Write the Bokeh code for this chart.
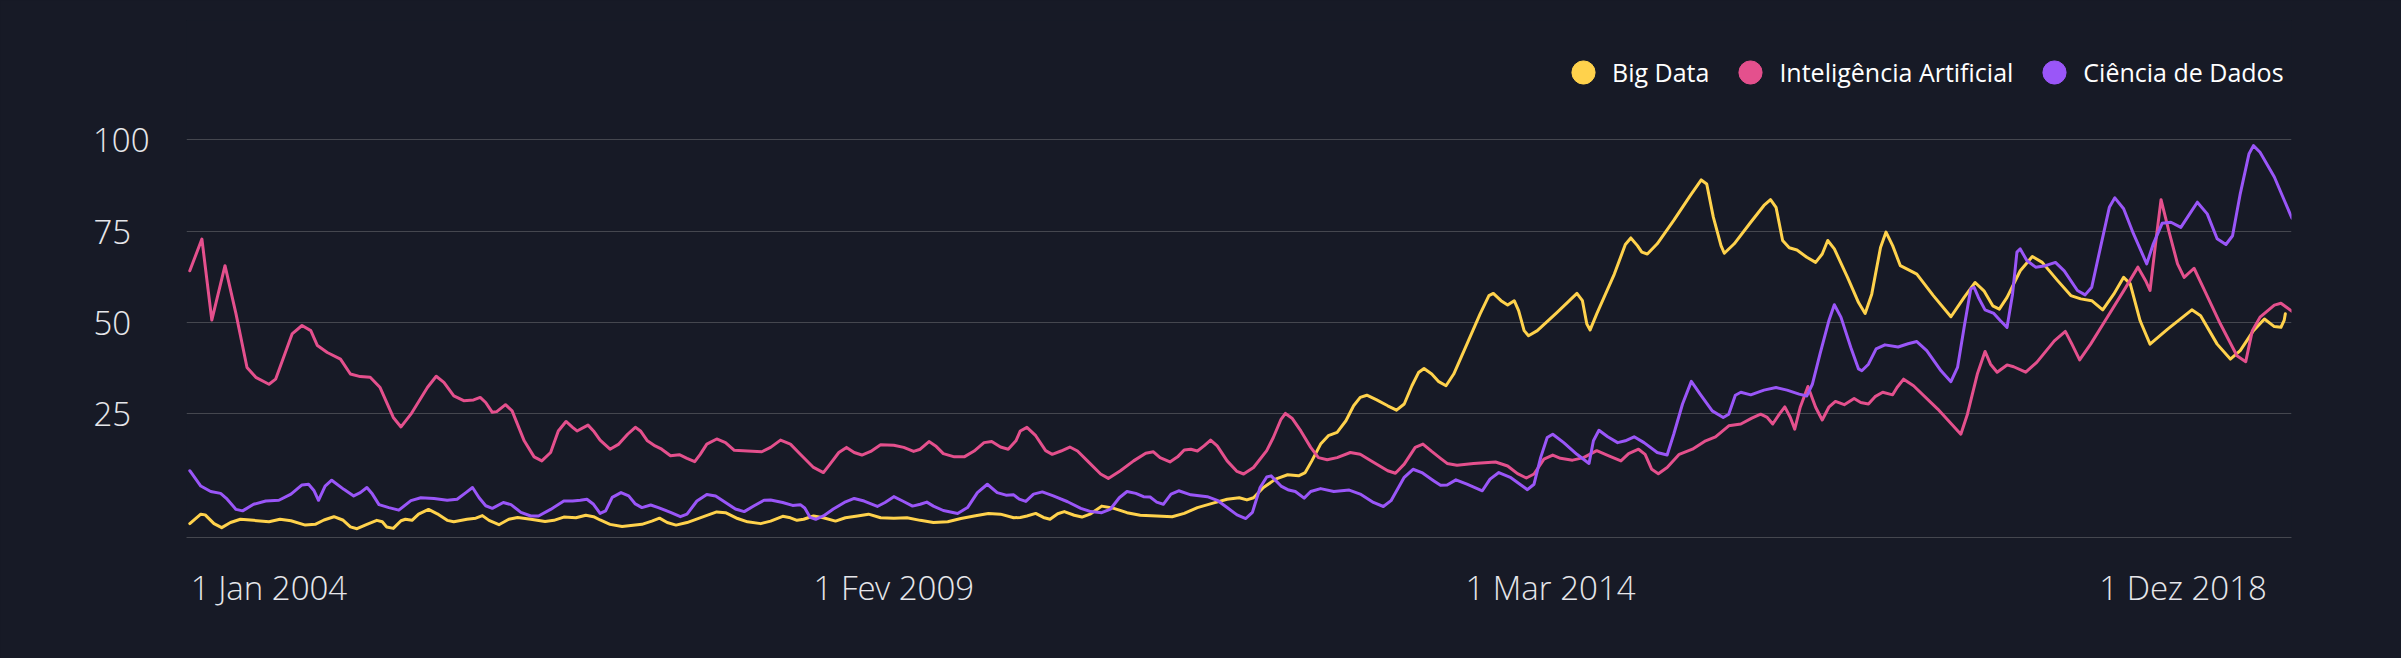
from bokeh.plotting import figure
from bokeh.models import FixedTicker, Range1d, Legend, LegendItem
from bokeh.embed import file_html
from bokeh.resources import INLINE

# ---------------- data (x = months since Jan 2004, y = index value) ----------------
big_data = [(0.0,-5.2),(1.0,-2.6),(1.4,-2.8),(2.2,-5.2),(2.9,-6.3),(3.7,-4.9),(4.6,-4.0),(5.8,-4.3),(7.2,-4.7),(8.2,-4.0),(9.2,-4.4),(10.5,-5.6),(11.4,-5.4),(12.2,-4.2),(13.1,-3.3),(13.9,-4.2),(14.6,-6.1),(15.2,-6.6),(16.1,-5.4),(17.0,-4.3),(17.5,-4.7),(17.9,-6.1),(18.5,-6.5),(19.2,-4.4),(19.6,-4.0),(20.2,-4.3),(20.8,-2.6),(21.7,-1.3),(22.5,-2.5),(23.4,-4.3),(24.0,-4.7),(25.2,-4.0),(26.0,-3.7),(26.6,-3.0),(27.2,-4.3),(28.1,-5.5),(29.0,-4.0),(29.8,-3.5),(31.0,-4.0),(32.3,-4.6),(33.1,-4.3),(34.0,-3.4),(35.1,-3.6),(36.0,-2.9),(36.7,-3.3),(37.3,-4.2),(38.2,-5.4),(39.3,-6.0),(41.1,-5.4),(42.0,-4.5),(42.7,-3.7),(43.4,-4.9),(44.2,-5.6),(45.2,-4.9),(46.7,-3.3),(47.9,-2.0),(48.7,-2.2),(49.8,-3.8),(50.7,-4.7),(51.9,-5.2),(52.8,-4.5),(53.9,-3.2),(54.6,-3.6),(55.2,-4.3),(55.8,-4.0),(56.7,-3.1),(57.6,-3.6),(58.7,-4.5),(59.6,-3.6),(60.7,-3.1),(61.7,-2.6),(62.8,-3.6),(64.0,-3.7),(65.2,-3.6),(66.4,-4.3),(67.6,-4.9),(68.9,-4.7),(70.1,-3.8),(71.3,-3.1),(72.6,-2.4),(73.7,-2.6),(74.9,-3.6),(75.5,-3.5),(76.1,-3.1),(76.9,-2.4),(77.6,-3.5),(78.2,-4.0),(78.9,-2.5),(79.5,-1.9),(80.4,-2.9),(81.1,-3.4),(81.9,-2.5),(82.9,-0.4),(84.0,-1.0),(85.2,-2.2),(86.4,-2.9),(87.9,-3.1),(89.3,-3.3),(90.4,-2.4),(91.6,-0.8),(93.1,0.5),(94.3,1.5),(95.4,1.9),(96.1,1.3),(96.7,1.9),(97.6,4.7),(98.7,7.0),(99.8,8.2),(100.8,7.9),(101.4,8.8),(102.0,12.0),(102.8,16.6),(103.5,18.9),(104.3,19.8),(105.1,23.0),(105.8,27.1),(106.4,29.4),(107.0,30.0),(107.9,28.7),(108.9,27.1),(109.7,25.9),(110.4,27.6),(111.1,32.6),(111.7,36.2),(112.2,37.3),(112.9,35.8),(113.5,33.8),(114.2,32.6),(114.9,35.8),(116.1,44.0),(117.3,52.3),(118.1,57.3),(118.5,57.9),(119.2,55.9),(119.8,54.7),(120.4,55.9),(120.8,53.2),(121.3,47.7),(121.7,46.3),(122.5,47.7),(124.3,52.7),(126.1,57.9),(126.6,55.9),(127.0,49.5),(127.3,47.9),(127.9,52.3),(129.5,63.2),(130.5,71.3),(131.0,73.1),(131.6,71.0),(132.0,69.2),(132.5,68.7),(133.4,71.5),(134.9,77.9),(136.4,84.7),(137.4,89.0),(137.9,87.9),(138.5,78.8),(139.2,71.0),(139.5,68.9),(140.4,71.5),(141.9,77.4),(143.1,82.0),(143.7,83.6),(144.2,81.5),(144.8,72.4),(145.4,70.4),(146.1,69.8),(147.0,67.8),(147.8,66.4),(148.4,68.7),(148.9,72.4),(149.5,70.1),(150.7,62.3),(151.7,55.4),(152.3,52.4),(152.9,57.7),(153.7,70.5),(154.2,74.7),(154.8,71.0),(155.5,65.5),(156.3,64.3),(157.0,63.2),(158.5,57.3),(160.1,51.5),(161.3,56.8),(162.3,60.9),(163.1,58.6),(163.9,54.5),(164.5,53.6),(165.2,56.8),(166.4,64.1),(167.5,68.0),(168.4,66.4),(169.8,61.4),(171.0,57.3),(171.9,56.4),(172.9,55.9),(173.9,53.4),(174.9,57.7),(175.8,62.3),(176.4,60.5),(177.3,50.4),(178.2,44.0),(179.8,48.1),(182.0,53.4),(182.8,51.8),(184.3,44.0),(185.5,39.9),(186.4,42.2),(187.6,47.7),(188.6,50.9),(189.5,48.8),(190.1,48.6),(190.4,50.6),(190.5,52.3)]

inteligencia_artificial = [(0.0,64.1),(1.1,72.8),(2.0,50.6),(3.2,65.5),(4.2,52.3),(5.2,37.6),(6.0,34.9),(7.2,33.0),(7.8,34.4),(9.3,46.8),(10.2,49.1),(11.0,47.7),(11.6,43.6),(12.5,41.7),(13.7,39.9),(14.6,35.8),(15.5,35.1),(16.4,34.9),(17.3,32.1),(18.5,23.9),(19.2,21.3),(20.1,24.8),(21.6,32.1),(22.4,35.2),(23.1,33.5),(24.0,29.8),(24.9,28.5),(25.8,28.7),(26.4,29.4),(26.9,28.0),(27.5,25.3),(27.9,25.5),(28.7,27.4),(29.3,25.7),(30.4,17.5),(31.3,13.1),(32.0,12.0),(32.8,14.3),(33.5,20.2),(34.2,22.8),(34.8,21.2),(35.2,20.2),(36.2,21.8),(36.7,20.2),(37.3,17.7),(38.2,15.2),(39.0,16.6),(39.8,19.3),(40.5,21.2),(41.0,20.1),(41.6,17.5),(42.3,16.1),(42.9,15.2),(43.7,13.4),(44.5,13.7),(45.2,12.7),(45.9,11.8),(46.4,13.8),(47.0,16.6),(47.9,18.0),(48.7,17.0),(49.5,14.9),(50.7,14.7),(52.0,14.5),(52.8,15.7),(53.7,17.7),(54.6,16.6),(55.5,13.8),(56.7,10.2),(57.6,8.8),(58.2,11.1),(59.0,14.3),(59.7,15.7),(60.4,14.3),(61.1,13.6),(61.9,14.6),(62.8,16.4),(64.0,16.3),(64.9,15.7),(65.8,14.6),(66.4,15.2),(67.2,17.3),(67.8,16.1),(68.5,14.0),(69.5,13.1),(70.4,13.1),(71.3,14.7),(72.2,17.0),(72.9,17.3),(73.7,15.8),(74.4,15.2),(75.1,17.5),(75.5,20.2),(76.1,21.2),(76.9,18.9),(77.8,14.8),(78.4,13.8),(79.2,14.7),(80.0,15.8),(80.7,14.7),(81.6,12.0),(82.8,8.4),(83.5,7.2),(84.6,9.3),(85.8,12.0),(86.9,14.1),(87.6,14.5),(88.2,12.9),(89.1,11.7),(89.8,13.1),(90.4,15.0),(91.0,15.2),(91.6,14.7),(92.2,16.1),(92.8,17.7),(93.4,16.1),(94.3,12.0),(95.2,9.1),(95.8,8.4),(96.7,10.2),(97.9,14.8),(98.5,18.4),(99.2,23.4),(99.6,25.0),(100.2,23.7),(101.0,20.2),(101.9,15.7),(102.6,12.9),(103.4,12.3),(104.3,12.9),(105.5,14.3),(106.4,13.8),(107.6,11.6),(108.9,9.3),(109.6,8.6),(110.4,11.1),(111.4,15.7),(112.1,16.6),(112.9,14.6),(113.7,12.7),(114.3,11.3),(115.2,10.8),(116.7,11.3),(118.7,11.7),(119.8,10.6),(120.7,8.5),(121.5,7.3),(122.2,8.4),(123.1,12.5),(123.9,13.6),(124.6,12.7),(125.7,12.2),(126.7,12.9),(127.9,14.8),(129.0,13.4),(130.1,12.0),(130.8,14.0),(131.7,15.2),(132.3,13.8),(132.9,9.7),(133.5,8.5),(134.3,10.2),(135.4,13.8),(136.6,15.2),(137.8,17.5),(138.7,18.6),(139.9,21.6),(141.0,22.1),(142.0,23.7),(142.8,24.8),(143.4,23.9),(143.9,22.1),(144.5,24.8),(145.0,26.8),(145.5,23.9),(145.9,20.7),(146.4,26.7),(147.1,32.4),(147.8,26.7),(148.4,23.2),(149.0,26.7),(149.6,28.3),(150.4,27.4),(151.3,29.1),(151.9,28.0),(152.6,27.6),(153.2,29.6),(153.9,30.8),(154.8,30.1),(155.2,32.1),(155.8,34.4),(156.7,32.6),(158.9,26.2),(161.0,19.3),(161.6,24.8),(162.5,35.8),(163.2,42.0),(163.7,38.5),(164.3,36.3),(165.2,38.3),(165.8,37.8),(166.9,36.3),(167.9,39.0),(169.5,44.9),(170.5,47.5),(171.1,44.0),(171.8,39.7),(172.8,44.0),(174.3,51.3),(175.8,58.6),(177.1,65.1),(177.8,61.4),(178.2,58.7),(178.7,71.5),(179.2,83.6),(179.9,75.1),(180.7,66.0),(181.3,62.3),(182.2,64.8),(183.1,59.1),(184.6,49.5),(186.1,40.8),(186.9,39.2),(187.5,47.7),(188.2,51.4),(189.5,54.7),(190.1,55.2),(191.1,53.0)]

ciencia_de_dados = [(0.0,9.3),(1.0,5.1),(1.9,3.6),(2.8,3.1),(3.4,1.5),(4.2,-1.3),(4.8,-1.7),(5.8,0.1),(6.9,1.0),(8.1,1.2),(9.2,2.9),(10.2,5.4),(10.8,5.6),(11.3,3.8),(11.7,1.2),(12.3,5.1),(12.9,6.7),(14.0,4.2),(14.9,2.4),(15.5,3.3),(16.1,4.7),(16.6,2.9),(17.2,0.0),(18.1,-0.8),(19.0,-1.5),(20.1,1.1),(21.0,1.9),(22.2,1.7),(23.4,1.2),(24.3,1.5),(25.1,3.3),(25.7,4.7),(26.3,1.9),(26.9,-0.3),(27.5,-1.0),(28.5,0.6),(29.2,0.0),(30.1,-2.1),(31.0,-3.1),(31.7,-3.1),(32.8,-1.3),(34.0,1.0),(34.8,1.0),(35.5,1.2),(36.1,1.5),(36.7,0.1),(37.3,-2.4),(37.8,-1.7),(38.4,2.0),(39.2,3.3),(39.9,2.4),(40.5,0.2),(41.1,-0.8),(41.9,-0.1),(42.6,-0.8),(43.7,-2.1),(44.6,-3.3),(45.2,-2.6),(46.1,1.0),(47.0,2.8),(47.8,2.4),(48.7,0.6),(49.6,-1.2),(50.4,-1.9),(51.3,-0.3),(52.2,1.2),(52.8,1.3),(53.9,0.6),(54.8,-0.2),(55.5,0.0),(55.9,-0.9),(56.4,-3.5),(56.9,-4.0),(57.6,-3.1),(58.5,-1.2),(59.5,0.6),(60.4,1.7),(61.3,1.0),(62.5,-0.5),(63.2,0.6),(64.0,2.2),(64.8,1.0),(65.7,-0.4),(66.4,0.1),(67.0,0.7),(67.6,-0.4),(68.5,-1.6),(69.8,-2.4),(70.7,-0.8),(71.6,3.3),(72.5,5.6),(73.4,3.3),(74.2,2.6),(74.9,2.7),(75.4,1.5),(76.0,0.9),(76.7,2.9),(77.5,3.5),(78.5,2.4),(79.8,0.8),(81.0,-1.0),(81.9,-1.9),(82.9,-2.2),(83.7,-1.2),(84.5,1.9),(85.2,3.6),(86.0,3.1),(86.7,2.2),(87.3,2.1),(87.9,0.7),(88.5,0.1),(89.2,2.9),(89.9,3.8),(91.0,2.7),(92.5,2.2),(93.4,1.2),(94.3,-0.8),(95.2,-2.8),(96.0,-3.8),(96.6,-2.1),(97.3,4.7),(97.9,7.6),(98.3,7.9),(99.2,5.1),(99.9,4.0),(100.5,3.6),(101.3,1.8),(101.9,3.6),(102.8,4.4),(104.0,3.6),(105.4,4.0),(106.4,2.9),(107.6,0.6),(108.5,-0.5),(109.2,1.1),(110.4,7.5),(111.2,9.7),(112.0,8.8),(113.1,6.5),(113.7,5.3),(114.3,5.4),(115.1,6.8),(116.1,5.6),(117.5,3.8),(118.2,7.0),(119.0,8.8),(120.1,7.4),(121.6,4.1),(122.2,5.6),(122.8,12.9),(123.4,18.4),(123.9,19.3),(124.9,17.0),(126.1,13.8),(127.2,11.3),(127.6,17.5),(128.1,20.4),(128.9,18.6),(129.8,17.0),(130.5,17.5),(131.3,18.6),(132.2,17.0),(133.4,14.3),(134.3,13.6),(134.9,19.3),(135.7,27.6),(136.5,33.8),(137.3,30.3),(138.4,25.7),(139.4,23.9),(139.9,24.8),(140.5,30.0),(141.0,30.8),(141.9,30.1),(143.1,31.4),(144.2,32.1),(145.2,31.4),(146.3,30.3),(147.0,29.8),(147.5,33.0),(148.2,41.3),(149.0,50.4),(149.5,54.8),(150.1,51.4),(151.0,43.1),(151.7,37.2),(152.0,36.7),(152.6,38.5),(153.3,42.7),(154.1,43.8),(155.3,43.2),(156.2,44.1),(157.0,44.7),(157.9,42.2),(159.2,36.7),(160.1,33.7),(160.7,37.6),(161.3,48.6),(161.9,59.1),(162.2,59.6),(162.6,56.8),(163.2,53.4),(164.0,52.4),(164.6,50.4),(165.2,48.6),(165.7,57.7),(166.1,69.2),(166.4,70.1),(167.0,66.9),(167.8,65.1),(168.7,65.5),(169.6,66.4),(170.4,64.1),(171.6,58.7),(172.3,57.5),(172.9,59.6),(173.7,70.6),(174.5,81.5),(175.0,84.1),(175.8,81.1),(176.7,74.2),(177.9,66.0),(178.5,71.5),(179.3,77.1),(180.1,77.4),(181.0,76.0),(181.7,79.2),(182.5,82.9),(183.4,79.7),(184.3,72.9),(185.1,71.3),(185.7,73.7),(186.4,85.2),(187.2,96.2),(187.6,98.4),(188.2,96.6),(189.5,89.8),(191.1,78.5)]

series_names = ["Big Data", "Inteligência Artificial", "Ciência de Dados"]
series_data = [big_data, inteligencia_artificial, ciencia_de_dados]
series_colors = ["#FFD24C", "#E4508D", "#9A56F8"]

x_tick_values = [7.2, 64.0, 123.7, 181.2]
x_tick_labels = ["1 Jan 2004", "1 Fev 2009", "1 Mar 2014", "1 Dez 2018"]
y_tick_values = [25, 50, 75, 100]
y_tick_labels = ["25\u2007", "50\u2007", "75\u2007", "100"]

BG = "#171a26"
GRID = "#45474f"
TICK_TEXT = "#e6e6ea"

p = figure(width=2401, height=658, output_backend="svg", toolbar_location=None,
           x_range=Range1d(-0.3, 191.06), y_range=Range1d(-9.0, 132.7),
           min_border_left=186, min_border_right=110, min_border_top=20, min_border_bottom=121,
           background_fill_color=BG, border_fill_color=BG, outline_line_color=None)

# axes
p.xaxis.ticker = FixedTicker(ticks=x_tick_values)
p.xaxis.major_label_overrides = {v: l for v, l in zip(x_tick_values, x_tick_labels)}
p.xaxis.axis_line_color = GRID
p.xaxis.axis_line_width = 1
p.xaxis.major_tick_line_color = None
p.xaxis.minor_tick_line_color = None
p.xaxis.major_tick_out = 0
p.xaxis.minor_tick_out = 0
p.xaxis.major_label_standoff = 27
p.xaxis.major_label_text_font = "Open Sans Light"
p.xaxis.major_label_text_font_size = "33px"
p.xaxis.major_label_text_color = TICK_TEXT

p.yaxis.ticker = FixedTicker(ticks=y_tick_values)
p.yaxis.major_label_overrides = {v: l for v, l in zip(y_tick_values, y_tick_labels)}
p.yaxis.axis_line_color = None
p.yaxis.major_tick_line_color = None
p.yaxis.minor_tick_line_color = None
p.yaxis.major_tick_out = 0
p.yaxis.minor_tick_out = 0
p.yaxis.major_label_standoff = 37
p.yaxis.major_label_text_font = "Open Sans Light"
p.yaxis.major_label_text_font_size = "33px"
p.yaxis.major_label_text_color = TICK_TEXT

p.xgrid.grid_line_color = None
p.ygrid.ticker = FixedTicker(ticks=y_tick_values)
p.ygrid.grid_line_color = GRID
p.ygrid.grid_line_width = 1

# lines + legend markers (hidden one-point scatter per series, used only as legend glyph)
legend_items = []
for name, data, color in zip(series_names, series_data, series_colors):
    xs = [d[0] for d in data]
    ys = [d[1] for d in data]
    p.line(xs, ys, line_color=color, line_width=3, line_join="round", line_cap="round")
    marker = p.scatter(x=xs[:1], y=ys[:1], marker="circle", size=23,
                       fill_color=color, line_color=color, visible=False)
    legend_items.append(LegendItem(label=name, renderers=[marker], index=0))

legend = Legend(items=legend_items, orientation="horizontal", location=(1368, 436),
                glyph_width=58, glyph_height=58, label_standoff=0, spacing=12,
                padding=0, margin=0, border_line_color=None, background_fill_alpha=0,
                inactive_fill_alpha=0,
                label_text_font="Open Sans", label_text_font_size="25px",
                label_text_color="#ffffff")
p.add_layout(legend)

html = file_html(p, INLINE)
html = html.replace("<body>", '<body style="background-color:%s;">' % BG)
open("out.html", "w").write(html)
